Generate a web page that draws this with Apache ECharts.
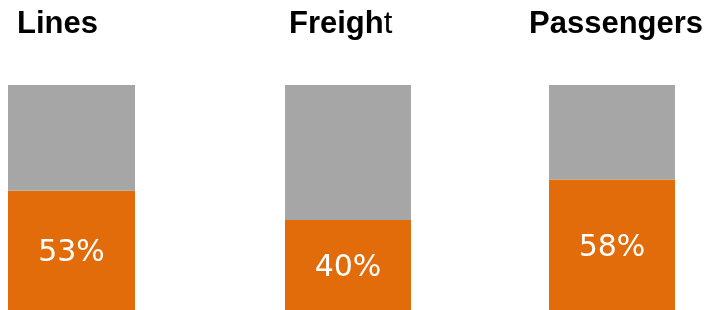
<!DOCTYPE html>
<html>
<head>
<meta charset="utf-8">
<script src="https://cdn.jsdelivr.net/npm/echarts@6/dist/echarts.min.js"></script>
<style>
  html, body { margin: 0; padding: 0; background: #fff; }
  #main { width: 712px; height: 310px; }
</style>
</head>
<body>
<div id="main"></div>
<script>
// data
const groups = ['Lines', 'Freight', 'Passengers']
const share = [53, 40, 58]   // orange part, %
const rest = [47, 60, 42]    // grey part, %

// where each bar sits (the bars are not evenly spaced in the original)
const boxes = [
  { left: 8, width: 127, titleLeft: 17 },
  { left: 285, width: 126, titleLeft: 289 },
  { left: 549, width: 126, titleLeft: 529 }
]

const grids = []
const xAxes = []
const yAxes = []
const series = []
const titles = []

groups.forEach((name, i) => {
  grids.push({ left: boxes[i].left, width: boxes[i].width, top: 85, bottom: 0 })
  xAxes.push({ type: 'category', gridIndex: i, data: [name], show: false })
  yAxes.push({ type: 'value', gridIndex: i, min: 0, max: 100, show: false })
  series.push({
    type: 'bar',
    name: name + ' share',
    xAxisIndex: i,
    yAxisIndex: i,
    stack: 'g' + i,
    barWidth: '100%',
    data: [share[i]],
    itemStyle: { color: '#e36c0a' },
    label: {
      show: true,
      position: 'inside',
      offset: [0, 3],
      formatter: '{c}%',
      color: '#fff',
      fontFamily: 'DejaVu Sans',
      fontSize: 30
    }
  })
  series.push({
    type: 'bar',
    name: name + ' rest',
    xAxisIndex: i,
    yAxisIndex: i,
    stack: 'g' + i,
    barWidth: '100%',
    data: [rest[i]],
    itemStyle: { color: '#a6a6a6' }
  })
  // "Freight" has a plain last letter in the original
  let text = '{b|' + name + '}'
  if (name === 'Freight') text = '{b|Freigh}{n|t}'
  titles.push({
    text: text,
    left: boxes[i].titleLeft,
    top: 9,
    padding: 0,
    textStyle: {
      rich: {
        b: { fontFamily: 'Liberation Sans', fontSize: 31, fontWeight: 'bold', color: '#000' },
        n: { fontFamily: 'Liberation Sans', fontSize: 31, fontWeight: 'normal', color: '#000' }
      }
    }
  })
})

const chart = echarts.init(document.getElementById('main'), null, { renderer: 'canvas' })
chart.setOption({
  animation: false,
  title: titles,
  grid: grids,
  xAxis: xAxes,
  yAxis: yAxes,
  series: series
})
</script>
</body>
</html>
